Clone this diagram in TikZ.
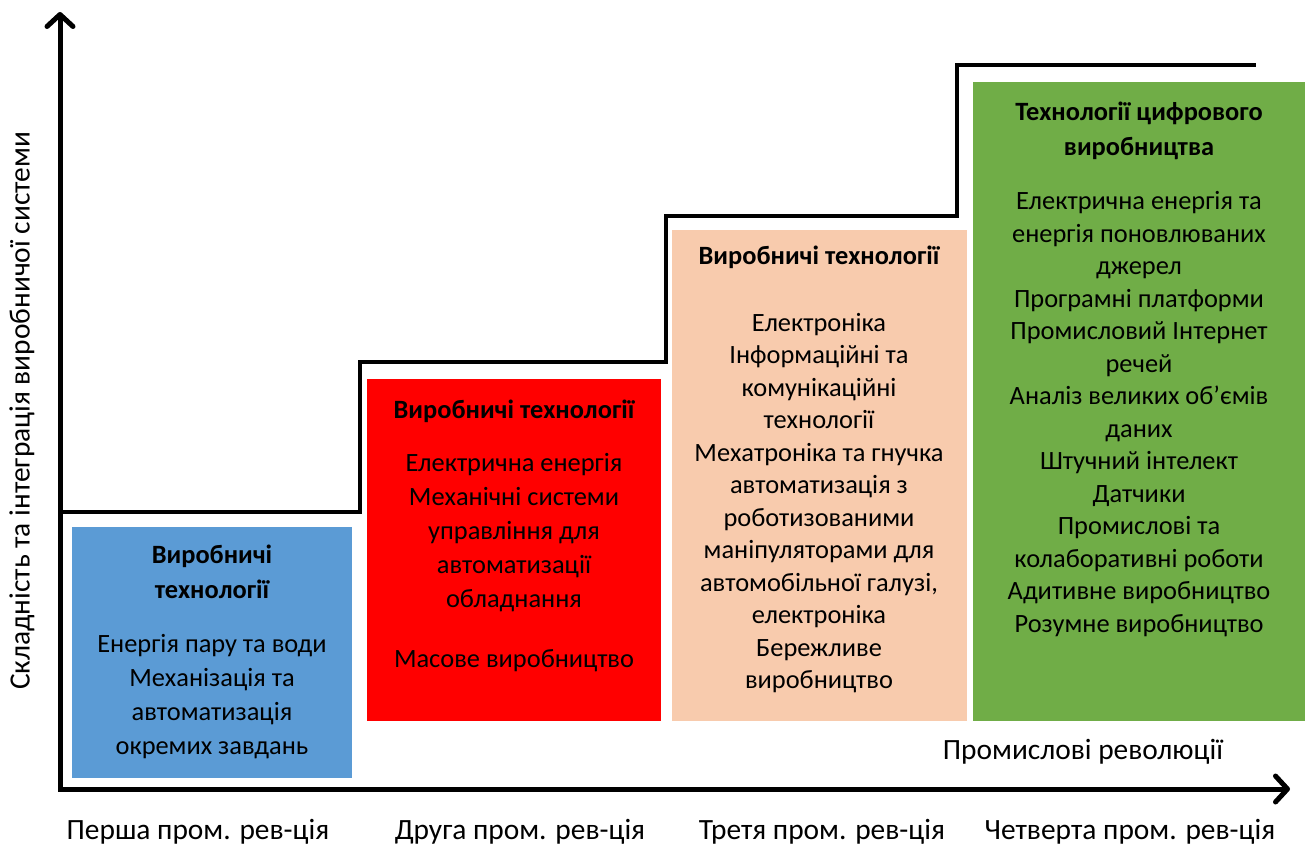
\documentclass[tikz,border=0pt]{standalone}
\usepackage{fontspec}
\setmainfont{Carlito}
\usetikzlibrary{arrows.meta}

\definecolor{bluebox}{HTML}{5B9BD5}
\definecolor{redbox}{HTML}{FF0000}
\definecolor{peachbox}{HTML}{F8CBAD}
\definecolor{greenbox}{HTML}{70AD47}

\begin{document}
\begin{tikzpicture}[x=0.5pt,y=-0.5pt,
         axis/.style = {line width=2.5pt, line join=miter,
            {Straight Barb[length=6pt,width=13pt,round]}-{Straight Barb[length=6pt,width=13pt,round]}},
         stair/.style = {line width=2pt, line join=miter},
         head/.style = {align=center, font=\fontsize{13.2}{17.5}\selectfont\bfseries},
         body/.style = {align=center, font=\fontsize{13.2}{17}\selectfont},
         lbl/.style = {font=\fontsize{14.7}{17}\selectfont}
]
   \useasboundingbox (0,0) rectangle (1310,850);

   % boxes
   \fill[bluebox]  (72,527)  rectangle (352,778);
   \fill[redbox]   (367,379) rectangle (661,721);
   \fill[peachbox] (672,230) rectangle (967,721);
   \fill[greenbox] (973,82)  rectangle (1305,721);

   % stairs
   \coordinate (s0) at (60,512);
   \coordinate (s1) at (360,512);
   \coordinate (s2) at (360,362);
   \coordinate (s3) at (666,362);
   \coordinate (s4) at (666,216);
   \coordinate (s5) at (957,216);
   \coordinate (s6) at (957,65);
   \coordinate (s7) at (1256,65);
   \draw[stair] (s0) -- (s1) -- (s2) -- (s3) -- (s4) -- (s5) -- (s6) -- (s7);

   % axes
   \coordinate (ytip) at (60,12);
   \coordinate (orig) at (60,789);
   \coordinate (xtip) at (1290,789);
   \draw[axis] (ytip) -- (orig) -- (xtip);

   \node[lbl, rotate=90] (ylab) at (22,411) {Складність та інтеграція виробничої системи};
   \node[lbl] (xlab) at (1083,752) {Промислові революції};

   % first
   \node[head] (h1) at (212,572) {Виробничі\\технології};
   \node[body] (t1) at (212,697) {Енергія пару та води\\Механізація та\\автоматизація\\окремих завдань};
   % second
   \node[head] (h2) at (514,411) {Виробничі технології};
   \node[body] (t2) at (514,533) {Електрична енергія\\Механічні системи\\управління для\\автоматизації\\обладнання};
   \node[body] (t2b) at (514,661) {Масове виробництво};
   % third
   \node[head] (h3) at (819,257) {Виробничі технології};
   \node[body, font=\fontsize{13.2}{16.25}\selectfont] (t3) at (819,503) {Електроніка\\Інформаційні та\\комунікаційні\\технології\\Мехатроніка та гнучка\\автоматизація з\\роботизованими\\маніпуляторами для\\автомобільної галузі,\\електроніка\\Бережливе\\виробництво};
   % fourth
   \node[head] (h4) at (1139,131) {Технології цифрового\\виробництва};
   \node[body, font=\fontsize{13.2}{16.25}\selectfont] (t4) at (1139,414) {Електрична енергія та\\енергія поновлюваних\\джерел\\Програмні платформи\\Промисловий Інтернет\\речей\\Аналіз великих об’ємів\\даних\\Штучний інтелект\\Датчики\\Промислові та\\колаборативні роботи\\Адитивне виробництво\\Розумне виробництво};

   % revolutions
   \node[lbl] (r1) at (198,832) {Перша пром. рев-ція};
   \node[lbl] (r2) at (520,832) {Друга пром. рев-ція};
   \node[lbl] (r3) at (822,832) {Третя пром. рев-ція};
   \node[lbl] (r4) at (1130,832) {Четверта пром. рев-ція};
\end{tikzpicture}
\end{document}
